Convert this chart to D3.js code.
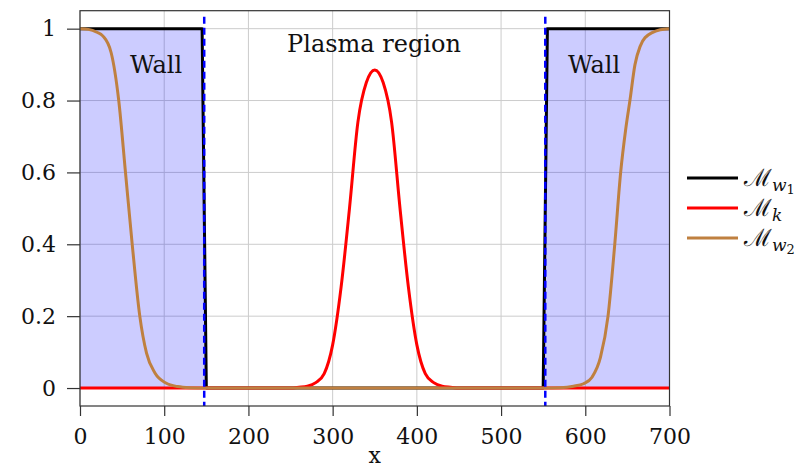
<!DOCTYPE html>
<html lang="en">
<head>
<meta charset="UTF-8">
<title>Wall masks</title>
<script src="https://d3js.org/d3.v7.min.js"></script>
<style>
    html, body { margin: 0; padding: 0; background: #fff; }
    text { font-family: "DejaVu Serif", "Liberation Serif", serif; fill: #111; }
    .grid line { stroke: #cccccc; stroke-width: 1; }
    .axis line { stroke: #333; stroke-width: 1.2; }
    .axis path { display: none; }
    .axis text { font-size: 22px; }
</style>
</head>
<body>
<script>
// values
var xTicks = [0, 100, 200, 300, 400, 500, 600, 700];
var yTicks = [0, 0.2, 0.4, 0.6, 0.8, 1];

var wallX = [0, 145, 150, 550, 555, 700];
var wallY = [1, 1, 0, 0, 1, 1];

var kX = [0, 200, 250, 260, 270, 280, 290, 300, 310, 320, 330, 340, 350,
          360, 370, 380, 390, 400, 410, 420, 430, 440, 450, 500, 700];
var kY = [0, 0, 0, 0.002, 0.005, 0.015, 0.04, 0.12, 0.28, 0.50, 0.74, 0.85, 0.885,
          0.85, 0.74, 0.50, 0.28, 0.12, 0.04, 0.015, 0.005, 0.002, 0, 0, 0];

var w2X = [0, 10, 20, 27, 37, 46, 54, 62, 71, 79, 89, 102, 116, 130, 150,
           550, 570, 586, 598, 608, 618, 627, 635, 642, 648, 653, 659, 665, 671, 689, 700];
var w2Y = [1, 0.998, 0.99, 0.98, 0.933, 0.80, 0.60, 0.40, 0.20, 0.097, 0.042, 0.014, 0.004, 0.001, 0,
           0, 0.001, 0.005, 0.012, 0.03, 0.085, 0.20, 0.40, 0.60, 0.72, 0.80, 0.90, 0.95, 0.975, 0.997, 1];

var wallEdges = [147.5, 552.5];

var legendNames = [
    { main: "\u2133", sub: "w", subNum: "1", color: "#000000" },
    { main: "\u2133", sub: "k", subNum: "", color: "#ff0000" },
    { main: "\u2133", sub: "w", subNum: "2", color: "#bf8040" }
];

var width = 811, height = 469;
var pLeft = 80, pRight = 669.5, pTop = 10.7, pBottom = 406;

var x = d3.scaleLinear().domain([0, 700]).range([pLeft, pRight]);
var y = d3.scaleLinear().domain([-0.05, 1.05]).range([pBottom, pTop]);

var svg = d3.select("body").append("svg")
    .attr("width", width).attr("height", height);

// grid
var grid = svg.append("g").attr("class", "grid");
grid.selectAll(".gx").data(xTicks).enter().append("line")
    .attr("x1", function(d) { return x(d); }).attr("x2", function(d) { return x(d); })
    .attr("y1", pTop).attr("y2", pBottom);
grid.selectAll(".gy").data(yTicks).enter().append("line")
    .attr("x1", pLeft).attr("x2", pRight)
    .attr("y1", function(d) { return y(d); }).attr("y2", function(d) { return y(d); });

var wall = wallX.map(function(d, i) { return [d, wallY[i]]; });
var kData = kX.map(function(d, i) { return [d, kY[i]]; });
var w2Data = w2X.map(function(d, i) { return [d, w2Y[i]]; });

// wall fill
var area = d3.area()
    .x(function(d) { return x(d[0]); })
    .y0(y(0))
    .y1(function(d) { return y(d[1]); });
svg.append("path").datum(wall)
    .attr("d", area)
    .attr("fill", "#0000ff").attr("fill-opacity", 0.2);

var straight = d3.line()
    .x(function(d) { return x(d[0]); })
    .y(function(d) { return y(d[1]); });
var smooth = d3.line()
    .x(function(d) { return x(d[0]); })
    .y(function(d) { return y(d[1]); })
    .curve(d3.curveMonotoneX);

svg.append("path").datum(wall).attr("d", straight)
    .attr("fill", "none").attr("stroke", "#000").attr("stroke-width", 3)
    .attr("stroke-linejoin", "round");
svg.append("path").datum(kData).attr("d", smooth)
    .attr("fill", "none").attr("stroke", "#ff0000").attr("stroke-width", 3);
svg.append("path").datum(w2Data).attr("d", smooth)
    .attr("fill", "none").attr("stroke", "#bf8040").attr("stroke-width", 3);

// dashed wall edges
svg.selectAll(".edge").data(wallEdges).enter().append("line")
    .attr("x1", function(d) { return x(d); }).attr("x2", function(d) { return x(d); })
    .attr("y1", pTop + 6).attr("y2", pBottom)
    .attr("stroke", "#0000ff").attr("stroke-width", 2.5)
    .attr("stroke-dasharray", "7,4");

// frame
svg.append("rect")
    .attr("x", pLeft).attr("y", pTop)
    .attr("width", pRight - pLeft).attr("height", pBottom - pTop)
    .attr("fill", "none").attr("stroke", "#333").attr("stroke-width", 1.2);

// axes
svg.append("g").attr("class", "axis")
    .attr("transform", "translate(0," + pBottom + ")")
    .call(d3.axisBottom(x).tickValues(xTicks).tickSize(10).tickPadding(12).tickSizeOuter(0)
        .tickFormat(d3.format("d")));
svg.append("g").attr("class", "axis")
    .attr("transform", "translate(" + pLeft + ",0)")
    .call(d3.axisLeft(y).tickValues(yTicks).tickSize(13).tickPadding(11).tickSizeOuter(0)
        .tickFormat(function(d) { return d === 0 || d === 1 ? String(d) : d3.format(".1f")(d); }));
svg.selectAll(".axis text").attr("fill", "#111");

// labels
svg.append("text").attr("x", x(350)).attr("y", 463)
    .attr("text-anchor", "middle").style("font-size", "22px").text("x");
svg.append("text").attr("x", 374).attr("y", 52)
    .attr("text-anchor", "middle").style("font-size", "24px").text("Plasma region");
svg.append("text").attr("x", 156).attr("y", 73)
    .attr("text-anchor", "middle").style("font-size", "24px").text("Wall");
svg.append("text").attr("x", 594).attr("y", 73)
    .attr("text-anchor", "middle").style("font-size", "24px").text("Wall");

// legend
var leg = svg.append("g");
legendNames.forEach(function(d, i) {
    var ly = 178 + i * 30;
    leg.append("line")
        .attr("x1", 687).attr("x2", 738).attr("y1", ly).attr("y2", ly)
        .attr("stroke", d.color).attr("stroke-width", 3);
    var t = leg.append("text").attr("x", 744).attr("y", ly + 8)
        .style("font-size", "24px");
    t.append("tspan").text(d.main);
    t.append("tspan").attr("dy", 5).style("font-size", "17px")
        .style("font-style", "italic").text(d.sub);
    if (d.subNum) {
        t.append("tspan").attr("dy", 3).style("font-size", "13px").text(d.subNum);
    }
});
</script>
</body>
</html>
